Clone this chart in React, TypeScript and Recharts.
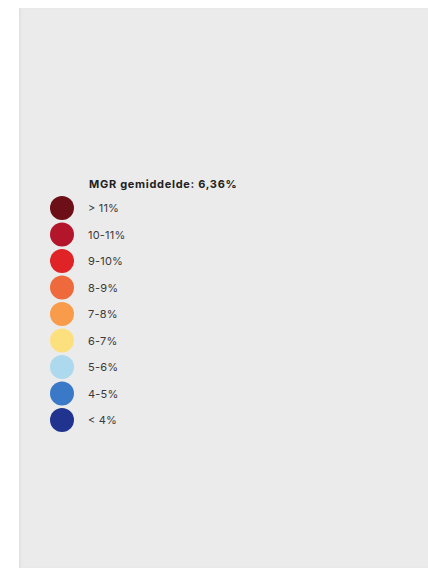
import { ScatterChart, Scatter, XAxis, YAxis, Cell } from "recharts";

const title = "MGR gemiddelde: 6,36%";
const classes = ["> 11%", "10-11%", "9-10%", "8-9%", "7-8%", "6-7%", "5-6%", "4-5%", "< 4%"];
const colors = ["#6c0f16", "#b3162b", "#df2326", "#ee6a3c", "#f89c4c", "#fde07e", "#acd9ee", "#3a78c8", "#20348f"];

const data = classes.map((label, i) => ({ x: 0, y: i, label }));

const LegendDot = (props: any) => {
  const { cx, cy, fill, payload } = props;
  return (
    <g>
      <circle cx={cx} cy={cy} r={12} fill={fill} />
      <text
        x={cx + 26}
        y={cy}
        dy={4}
        fontSize={11}
        fontFamily="Inter, sans-serif"
        fill="#3a3a3a"
        letterSpacing={0.2}
      >
        {payload.label}
      </text>
    </g>
  );
};

export default function App() {
  return (
    <div
      style={{
        position: "fixed",
        left: 19,
        top: 8,
        right: 0,
        bottom: 0,
        background: "#ebebeb",
        boxShadow: "inset 2px 0 2px rgba(0,0,0,0.04)",
        overflow: "hidden",
      }}
    >
      <div
        style={{
          position: "absolute",
          left: 70,
          top: 169,
          fontFamily: "Inter, sans-serif",
          fontWeight: 700,
          fontSize: 11,
          color: "#222",
          letterSpacing: 0.7,
        }}
      >
        {title}
      </div>
      <ScatterChart width={409} height={560} margin={{ top: 200, bottom: 148, left: 43, right: 10 }}>
        <XAxis type="number" dataKey="x" domain={[0, 1]} hide />
        <YAxis type="number" dataKey="y" domain={[0, 8]} reversed hide width={0} />
        <Scatter data={data} shape={LegendDot} isAnimationActive={false}>
          {data.map((d, i) => (
            <Cell key={d.label} fill={colors[i]} />
          ))}
        </Scatter>
      </ScatterChart>
    </div>
  );
}
